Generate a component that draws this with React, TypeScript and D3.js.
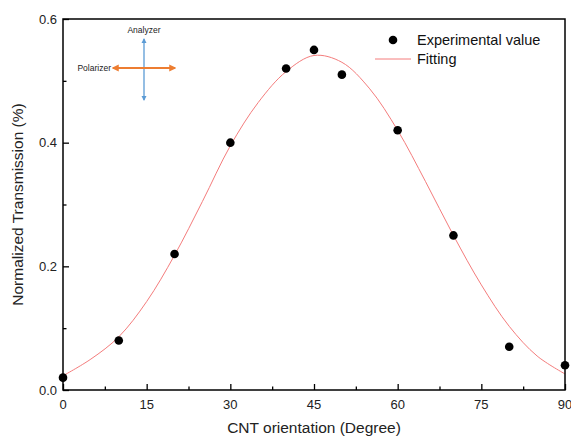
import React, { useRef, useEffect } from "react";
import * as d3 from "d3";

// measured points
const angles = [0, 10, 20, 30, 40, 45, 50, 60, 70, 80, 90];
const transmission = [0.02, 0.08, 0.22, 0.4, 0.52, 0.55, 0.51, 0.42, 0.25, 0.07, 0.04];

// fitted curve, every 5 degrees
const fitAngles = [0, 5, 10, 15, 20, 25, 30, 35, 40, 45, 50, 55, 60, 65, 70, 75, 80, 85, 90];
const fitValues = [
  0.023, 0.05, 0.086, 0.143, 0.218, 0.305, 0.395, 0.465, 0.515, 0.541, 0.53, 0.487, 0.42, 0.337,
  0.25, 0.17, 0.103, 0.055, 0.026,
];

const xTicks = [0, 15, 30, 45, 60, 75, 90];
const yTicks = [0, 0.2, 0.4, 0.6];

const App = () => {
  const container = useRef(null);

  const width = 571;
  const height = 436;
  const margin = { left: 63, right: 6, top: 19, bottom: 46 };

  useEffect(() => {
    const svg = d3.select(container.current);
    svg.selectAll("*").remove();

    const x = d3
      .scaleLinear()
      .domain([0, 90])
      .range([margin.left, width - margin.right]);
    const y = d3
      .scaleLinear()
      .domain([0, 0.6])
      .range([height - margin.bottom, margin.top]);

    const font = "'Liberation Sans', Arial, sans-serif";

    // fitting curve
    const line = d3
      .line<number>()
      .x((d, i) => x(fitAngles[i]))
      .y((d) => y(d))
      .curve(d3.curveCatmullRom);

    svg
      .append("path")
      .attr("d", line(fitValues))
      .attr("fill", "none")
      .attr("stroke", "#f47c7c")
      .attr("stroke-width", 1);

    // points
    svg
      .append("g")
      .selectAll("circle")
      .data(transmission)
      .enter()
      .append("circle")
      .attr("cx", (d, i) => x(angles[i]))
      .attr("cy", (d) => y(d))
      .attr("r", 4.3)
      .attr("fill", "#000");

    // frame
    svg
      .append("rect")
      .attr("x", x(0))
      .attr("y", y(0.6))
      .attr("width", x(90) - x(0))
      .attr("height", y(0) - y(0.6))
      .attr("fill", "none")
      .attr("stroke", "#000")
      .attr("stroke-width", 1.5);

    // bottom axis ticks (inward)
    const xAxis = d3
      .axisBottom(x)
      .tickValues(d3.range(0, 90.1, 7.5))
      .tickSize(-6)
      .tickSizeOuter(0)
      .tickFormat(() => "");
    const gx = svg
      .append("g")
      .attr("transform", `translate(0, ${y(0)})`)
      .call(xAxis);
    gx.select(".domain").remove();
    gx.selectAll("line")
      .attr("stroke", "#000")
      .attr("stroke-width", 1.3)
      .attr("y2", (d: any) => (d % 15 === 0 ? -6 : -3.5));

    svg
      .append("g")
      .selectAll("text")
      .data(xTicks)
      .enter()
      .append("text")
      .attr("x", (d) => x(d))
      .attr("y", y(0) + 19)
      .attr("text-anchor", "middle")
      .style("font-family", font)
      .style("font-size", "13px")
      .style("fill", "#222")
      .text((d) => d);

    // left axis ticks (inward)
    const yAxis = d3
      .axisLeft(y)
      .tickValues(d3.range(0, 0.61, 0.1))
      .tickSize(-6)
      .tickSizeOuter(0)
      .tickFormat(() => "");
    const gy = svg
      .append("g")
      .attr("transform", `translate(${x(0)}, 0)`)
      .call(yAxis);
    gy.select(".domain").remove();
    gy.selectAll("line")
      .attr("stroke", "#000")
      .attr("stroke-width", 1.3)
      .attr("x2", (d: any, i: number) => (i % 2 === 0 ? 6 : 3.5));

    svg
      .append("g")
      .selectAll("text")
      .data(yTicks)
      .enter()
      .append("text")
      .attr("x", x(0) - 6)
      .attr("y", (d) => y(d) + 4.5)
      .attr("text-anchor", "end")
      .style("font-family", font)
      .style("font-size", "13px")
      .style("fill", "#222")
      .text((d) => d.toFixed(1));

    // axis titles
    svg
      .append("text")
      .attr("x", x(45))
      .attr("y", 433)
      .attr("text-anchor", "middle")
      .style("font-family", font)
      .style("font-size", "15.5px")
      .style("fill", "#222")
      .text("CNT orientation (Degree)");

    svg
      .append("text")
      .attr("transform", `translate(23, ${y(0.3)}) rotate(-90)`)
      .attr("text-anchor", "middle")
      .style("font-family", font)
      .style("font-size", "15.5px")
      .style("fill", "#222")
      .text("Normalized Transmission (%)");

    // legend
    const legend = svg.append("g");
    legend
      .append("circle")
      .attr("cx", 393)
      .attr("cy", 40)
      .attr("r", 4.3)
      .attr("fill", "#000");
    legend
      .append("text")
      .attr("x", 417)
      .attr("y", 45)
      .style("font-family", font)
      .style("font-size", "14.5px")
      .style("fill", "#111")
      .text("Experimental value");
    legend
      .append("line")
      .attr("x1", 375)
      .attr("x2", 411)
      .attr("y1", 59)
      .attr("y2", 59)
      .attr("stroke", "#f47c7c")
      .attr("stroke-width", 1);
    legend
      .append("text")
      .attr("x", 417)
      .attr("y", 64)
      .style("font-family", font)
      .style("font-size", "14.5px")
      .style("fill", "#111")
      .text("Fitting");

    // polarizer / analyzer sketch
    const defs = svg.append("defs");
    const marker = (id: string, color: string) =>
      defs
        .append("marker")
        .attr("id", id)
        .attr("viewBox", "0 0 10 10")
        .attr("refX", 8)
        .attr("refY", 5)
        .attr("markerWidth", 4)
        .attr("markerHeight", 4)
        .attr("orient", "auto-start-reverse")
        .append("path")
        .attr("d", "M0,0 L10,5 L0,10 z")
        .attr("fill", color);
    marker("arrBlue", "#5b9bd5");
    marker("arrOrange", "#ed7d31");

    svg
      .append("line")
      .attr("x1", 144)
      .attr("x2", 144)
      .attr("y1", 39)
      .attr("y2", 100)
      .attr("stroke", "#5b9bd5")
      .attr("stroke-width", 1.3)
      .attr("marker-start", "url(#arrBlue)")
      .attr("marker-end", "url(#arrBlue)");
    svg
      .append("line")
      .attr("x1", 113)
      .attr("x2", 175)
      .attr("y1", 68)
      .attr("y2", 68)
      .attr("stroke", "#ed7d31")
      .attr("stroke-width", 1.8)
      .attr("marker-start", "url(#arrOrange)")
      .attr("marker-end", "url(#arrOrange)");

    svg
      .append("text")
      .attr("x", 144)
      .attr("y", 33)
      .attr("text-anchor", "middle")
      .style("font-family", font)
      .style("font-size", "8.5px")
      .style("fill", "#222")
      .text("Analyzer");
    svg
      .append("text")
      .attr("x", 111)
      .attr("y", 71)
      .attr("text-anchor", "end")
      .style("font-family", font)
      .style("font-size", "8.5px")
      .style("fill", "#222")
      .text("Polarizer");
  }, []);

  return (
    <svg
      ref={container}
      width={width}
      height={height}
      style={{ position: "absolute", left: 0, top: 0, background: "#fff" }}
    />
  );
};

export default App;
